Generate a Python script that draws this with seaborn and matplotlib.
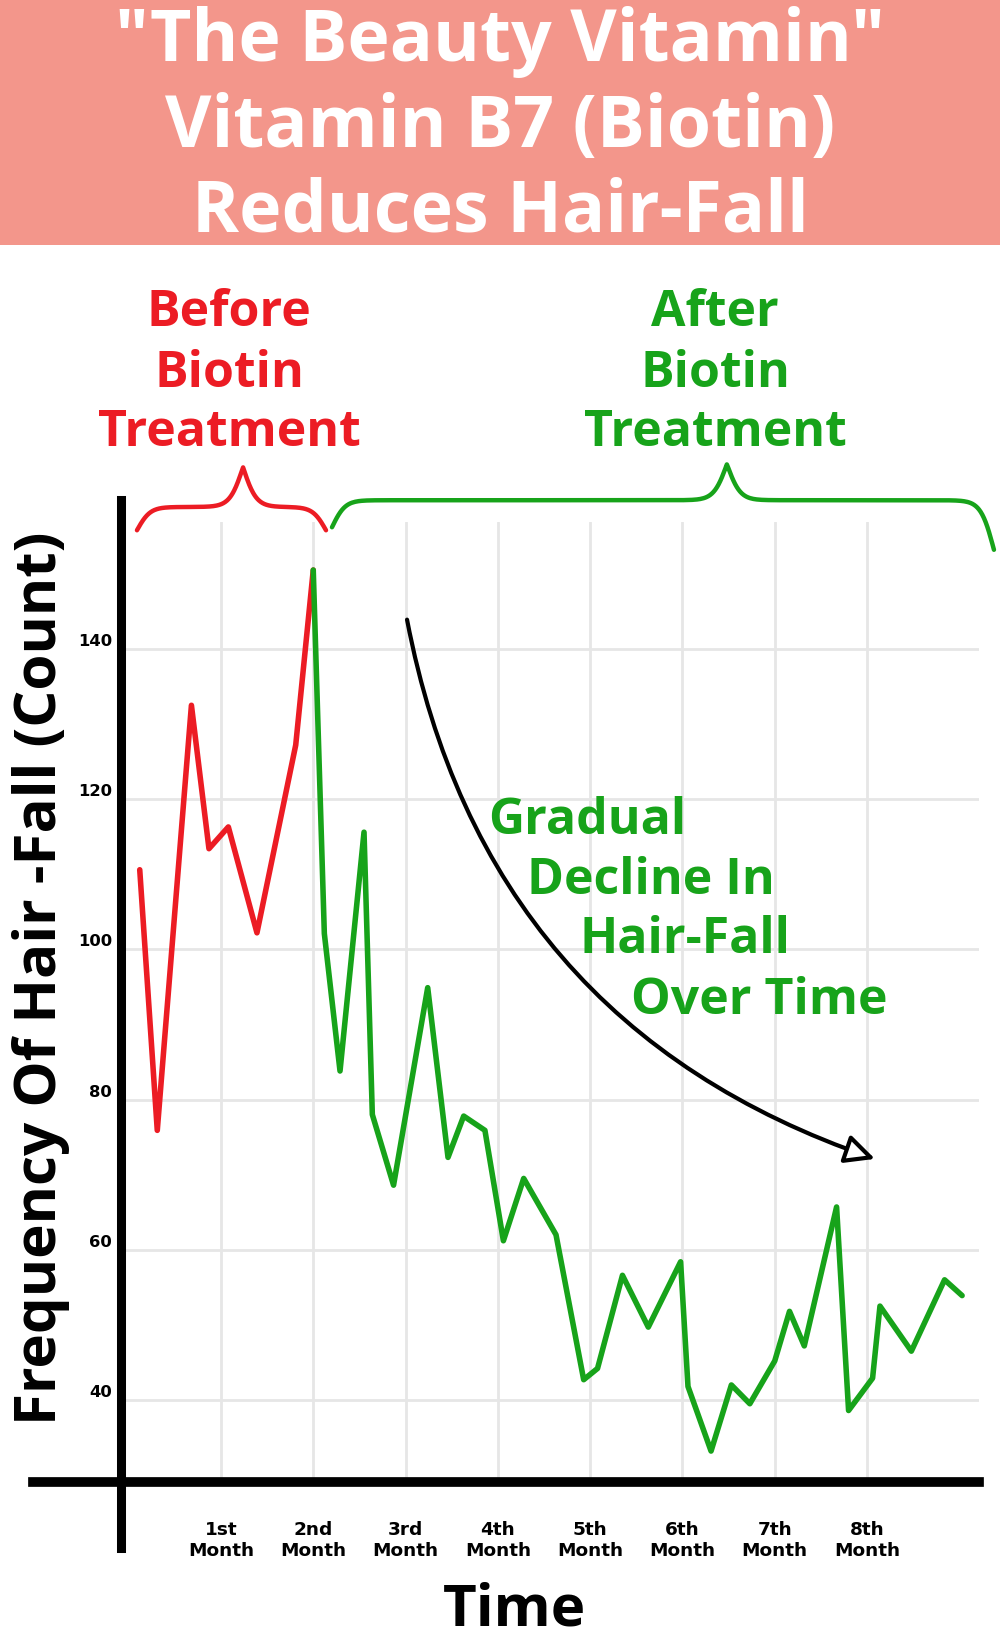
import numpy as np
import pandas as pd
import matplotlib.pyplot as plt
import seaborn as sns
from matplotlib.patches import Rectangle

# data (x in months, y = hair-fall count)
before_month = [0.12, 0.31, 0.68, 0.87, 1.08, 1.39, 1.81, 2.00]
before_count = [110.6, 75.9, 132.5, 113.4, 116.3, 102.2, 127.2, 150.5]

after_month = [2.00, 2.12, 2.29, 2.55, 2.64, 2.87, 3.24, 3.46, 3.63, 3.86,
               4.06, 4.28, 4.63, 4.93, 5.08, 5.35, 5.63, 5.98, 6.06, 6.31,
               6.53, 6.73, 7.00, 7.16, 7.32, 7.67, 7.80, 8.06, 8.14, 8.48,
               8.84, 9.03]
after_count = [150.5, 102.1, 83.8, 115.6, 78.0, 68.6, 94.9, 72.3, 77.8, 75.9,
               61.2, 69.5, 62.0, 42.7, 44.2, 56.6, 49.7, 58.4, 41.8, 33.2,
               42.0, 39.5, 45.2, 51.8, 47.2, 65.7, 38.6, 42.9, 52.5, 46.5,
               56.0, 53.9]

month_ticks = [1, 2, 3, 4, 5, 6, 7, 8]
month_labels = ["1st\nMonth", "2nd\nMonth", "3rd\nMonth", "4th\nMonth",
                "5th\nMonth", "6th\nMonth", "7th\nMonth", "8th\nMonth"]
count_ticks = [40, 60, 80, 100, 120, 140]

title_lines = ['"The Beauty Vitamin"', "Vitamin B7 (Biotin)", "Reduces Hair-Fall"]
before_lines = ["Before", "Biotin", "Treatment"]
after_lines = ["After", "Biotin", "Treatment"]
note_lines = ["Gradual", "Decline In", "Hair-Fall", "Over Time"]

RED = "#EC1C24"
GREEN = "#17A31A"
SALMON = "#F3968B"
GRID = "#e6e6e6"

df = pd.concat([
    pd.DataFrame({"month": before_month, "count": before_count, "phase": "Before"}),
    pd.DataFrame({"month": after_month, "count": after_count, "phase": "After"}),
], ignore_index=True)

sns.set_theme(style="white")
plt.rcParams["font.family"] = ["Open Sans", "DejaVu Sans"]

W, H = 1000, 1648
fig = plt.figure(figsize=(W / 100, H / 100), dpi=100)
fig.patch.set_facecolor("white")


def fx(px):
    return px / W


def fy(py):
    return 1 - py / H


# title band
fig.patches.append(Rectangle((0, fy(245)), 1, 245 / H, transform=fig.transFigure,
                             facecolor=SALMON, edgecolor="none", zorder=0))
for line, base in zip(title_lines, [61, 147, 231]):
    fig.text(0.5, fy(base), line, ha="center", va="baseline", color="white",
             fontsize=51.5, fontweight="bold")

ax = fig.add_axes([fx(121), fy(1482), fx(858), 960 / H])
sns.lineplot(data=df, x="month", y="count", hue="phase",
             palette={"Before": RED, "After": GREEN}, linewidth=4,
             legend=False, sort=False, estimator=None, ax=ax)
ax.set_xlim(-0.083, 9.213)
ax.set_ylim(29.08, 156.9)

ax.set_xticks(month_ticks, month_labels)
ax.set_yticks(count_ticks)
ax.set_axisbelow(True)
ax.grid(True, color=GRID, linewidth=2)
ax.tick_params(axis="x", length=16, width=2, color=GRID, pad=12)
ax.tick_params(axis="y", length=5, width=2, color=GRID, pad=1.5)
for lab in ax.get_xticklabels():
    lab.set_fontfamily("DejaVu Sans")
    lab.set_fontweight("bold")
    lab.set_fontsize(13.3)
    lab.set_linespacing(1.25)
    lab.set_color("black")
for lab in ax.get_yticklabels():
    lab.set_fontfamily("DejaVu Sans")
    lab.set_fontweight("bold")
    lab.set_fontsize(11.8)
    lab.set_va("bottom")
    lab.set_color("black")

for side in ["top", "right"]:
    ax.spines[side].set_visible(False)
ax.spines["left"].set_color("black")
ax.spines["left"].set_linewidth(6.5)
ax.spines["left"].set_bounds(20.3, 159.8)
ax.spines["bottom"].set_color("black")
ax.spines["bottom"].set_linewidth(7)
ax.spines["bottom"].set_bounds(-1.036, 9.213)

ax.set_ylabel("Frequency Of Hair -Fall (Count)", fontsize=42, fontweight="bold",
              color="black", va="baseline")
ax.yaxis.set_label_coords(-0.0758, 0.525)
ax.set_xlabel("Time", fontsize=42, fontweight="bold", color="black", va="baseline")
ax.xaxis.set_label_coords(0.459, -0.149)


def sigmoid(z):
    return 1 / (1 + np.exp(-z))


def curly_brace(x0, x1, xm, y_left, y_right, y_body, y_peak, color, beta=14):
    xs = np.linspace(x0, x1, 400)
    left = xs <= xm
    ys = np.empty_like(xs)
    xl = xs[left]
    ys[left] = (y_left + (y_body - y_left) * 2 * (sigmoid(beta * (xl - x0)) - 0.5)
                + (y_peak - y_body) * 2 * sigmoid(beta * (xl - xm)))
    xr = xs[~left]
    ys[~left] = (y_right + (y_body - y_right) * 2 * (sigmoid(beta * (x1 - xr)) - 0.5)
                 + (y_peak - y_body) * 2 * sigmoid(beta * (xm - xr)))
    ax.plot(xs, ys, color=color, lw=3.2, clip_on=False, solid_capstyle="round")


curly_brace(0.09, 2.138, 1.239, 155.8, 155.8, 158.9, 164.2, RED)
curly_brace(2.203, 9.375, 6.482, 156.2, 153.2, 159.8, 164.6, GREEN)

for line, base in zip(before_lines, [326, 387, 446]):
    fig.text(fx(229), fy(base), line, ha="center", va="baseline", color=RED,
             fontsize=36, fontweight="bold")
for line, base in zip(after_lines, [326, 387, 446]):
    fig.text(fx(715), fy(base), line, ha="center", va="baseline", color=GREEN,
             fontsize=36, fontweight="bold")

ax.annotate("", xy=(8.086, 72.1), xytext=(3.016, 143.9),
            arrowprops=dict(arrowstyle="-|>,head_length=0.45,head_width=0.22",
                            mutation_scale=40, connectionstyle="arc3,rad=0.29",
                            ec="black", fc="white", lw=3, shrinkA=0, shrinkB=0))

for line, (left, base) in zip(note_lines, [(488, 834), (527, 894), (580, 953), (631, 1014)]):
    fig.text(fx(left), fy(base), line, ha="left", va="baseline", color=GREEN,
             fontsize=36, fontweight="bold")

fig.savefig("out.png", dpi=100)
